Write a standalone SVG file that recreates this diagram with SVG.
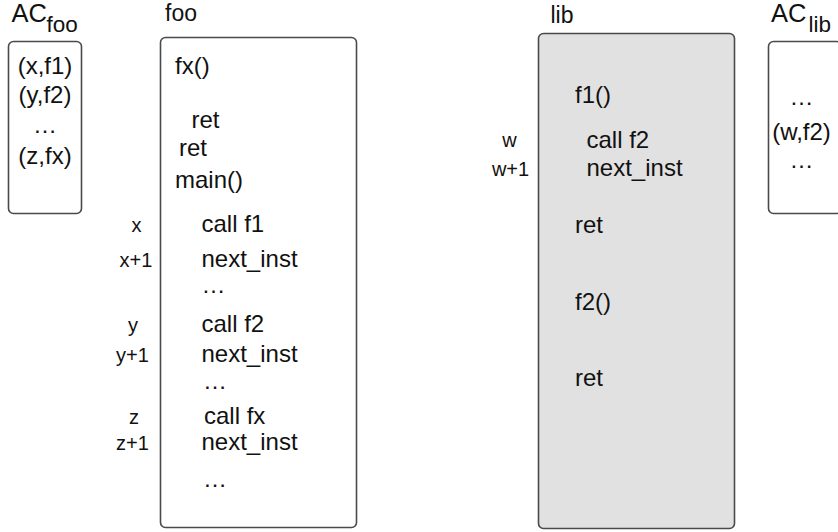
<svg xmlns="http://www.w3.org/2000/svg" width="838" height="532" viewBox="0 0 838 532">
<style>
text{font-family:"Liberation Sans",Arial,Helvetica,sans-serif;font-size:24px;fill:#111}
.t{font-size:23px}
.ac{font-size:25.5px}
.sub{font-size:22.5px}
.lbl{font-size:20px;text-anchor:middle}
.box{fill:#fff;stroke:#4a4a4a;stroke-width:1.6}
.shade{fill:#e1e1e1}
.mid{text-anchor:middle}
</style>
<rect width="838" height="532" fill="#fff"/>
<g id="acfoo">
<text class="ac" x="11.5" y="22">AC</text><text class="sub" x="46.5" y="32">foo</text>
<rect class="box" x="8.5" y="41.5" width="73" height="172" rx="5"/>
<text class="mid" x="45" y="74">(x,f1)</text>
<text class="mid" x="45" y="103">(y,f2)</text>
<text class="mid" x="45" y="133">…</text>
<text class="mid" x="45" y="164">(z,fx)</text>
</g>
<g id="foo">
<text class="t" x="165" y="21">foo</text>
<rect class="box" x="160.5" y="37.5" width="196" height="490" rx="5"/>
<text x="175" y="74">fx()</text>
<text x="191.5" y="127.5">ret</text>
<text x="179" y="156">ret</text>
<text x="175" y="188">main()</text>
<text class="lbl" x="136.5" y="232">x</text>
<text x="201.5" y="232">call f1</text>
<text class="lbl" x="136" y="267">x+1</text>
<text x="201.5" y="267">next_inst</text>
<text x="201.5" y="293">…</text>
<text class="lbl" x="133" y="331.5">y</text>
<text x="201.5" y="331.5">call f2</text>
<text class="lbl" x="132.5" y="362">y+1</text>
<text x="201.5" y="362">next_inst</text>
<text x="203" y="389">…</text>
<text class="lbl" x="134" y="424">z</text>
<text x="204" y="424">call fx</text>
<text class="lbl" x="132.5" y="449.5">z+1</text>
<text x="201.5" y="449.5">next_inst</text>
<text x="203" y="486.5">…</text>
</g>
<g id="lib">
<text class="t" x="550.5" y="23">lib</text>
<rect class="box shade" x="538.5" y="33.5" width="196" height="495" rx="5"/>
<text x="575" y="103">f1()</text>
<text class="lbl" x="509.5" y="147">w</text>
<text x="586.5" y="148">call f2</text>
<text class="lbl" x="510.5" y="175.5">w+1</text>
<text x="586.5" y="176">next_inst</text>
<text x="575" y="233">ret</text>
<text x="575" y="310">f2()</text>
<text x="575" y="386">ret</text>
</g>
<g id="aclib">
<text class="ac" x="771" y="22">AC</text><text class="sub" x="808.5" y="32">lib</text>
<rect class="box" x="768.5" y="41.5" width="73" height="172" rx="5"/>
<text class="mid" x="801.5" y="105">…</text>
<text class="mid" x="801.5" y="140">(w,f2)</text>
<text class="mid" x="801.5" y="168">…</text>
</g>
<g id="connectors"></g>
</svg>
